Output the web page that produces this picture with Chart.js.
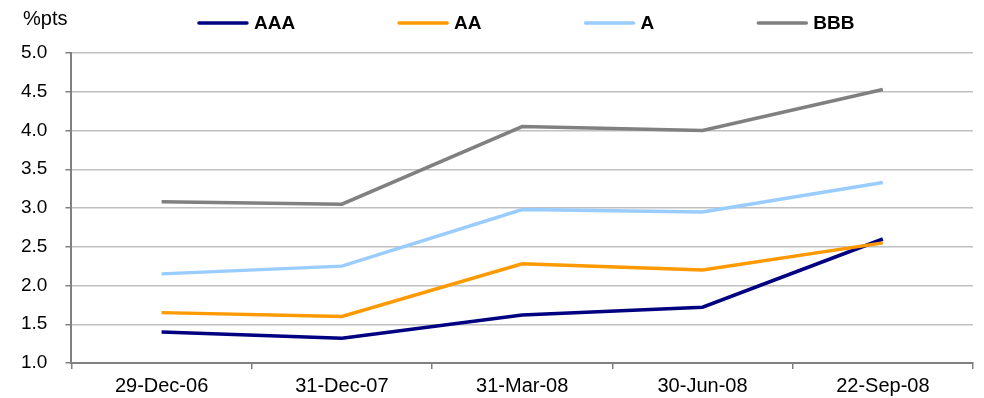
<!DOCTYPE html>
<html>
<head>
<meta charset="utf-8">
<script src="https://cdn.jsdelivr.net/npm/chart.js@4/dist/chart.umd.min.js"></script>
<style>
  html, body { margin: 0; padding: 0; background: #ffffff; }
  #wrap { width: 984px; height: 398px; position: relative; }
</style>
</head>
<body>
<div id="wrap"><canvas id="chart"></canvas></div>
<script>
// Spread over benchmark, by rating bucket (%pts)
const dates = ['29-Dec-06', '31-Dec-07', '31-Mar-08', '30-Jun-08', '22-Sep-08'];
const seriesNames = ['AAA', 'AA', 'A', 'BBB'];
const aaa = [1.40, 1.32, 1.62, 1.72, 2.60];
const aa  = [1.65, 1.60, 2.28, 2.20, 2.55];
const a   = [2.15, 2.25, 2.98, 2.95, 3.33];
const bbb = [3.08, 3.05, 4.05, 4.00, 4.53];
const yMin = 1.0, yMax = 5.0, yStep = 0.5;
const unitLabel = '%pts';

const seriesValues = [aaa, aa, a, bbb];
const seriesColors = ['#000080', '#FF9900', '#99CCFF', '#808080'];

const FONT = "'Liberation Sans', Arial, sans-serif";

// Legend row and unit caption above the plot
const headerPlugin = {
  id: 'header',
  afterDraw(chart) {
    const ctx = chart.ctx;
    const area = chart.chartArea;
    ctx.save();
    // unit caption
    ctx.font = '20px ' + FONT;
    ctx.fillStyle = '#000000';
    ctx.textBaseline = 'alphabetic';
    ctx.textAlign = 'left';
    ctx.fillText(unitLabel, 23, 25);

    // legend
    const lineLen = 50, textGap = 6, itemGap = 103;
    ctx.font = 'bold 19px ' + FONT;
    const items = chart.data.datasets.map(ds => ({
      label: ds.label, color: ds.borderColor, w: ctx.measureText(ds.label).width
    }));
    const total = items.reduce((s, it) => s + lineLen + textGap + it.w, 0) + itemGap * (items.length - 1);
    let x = (area.left + area.right) / 2 - total / 2 + 4;
    const lineY = 23, baseY = 29;
    items.forEach(it => {
      ctx.strokeStyle = it.color;
      ctx.lineWidth = 3.5;
      ctx.lineCap = 'round';
      ctx.beginPath();
      ctx.moveTo(x + 1, lineY);
      ctx.lineTo(x + lineLen - 1, lineY);
      ctx.stroke();
      ctx.fillStyle = '#000000';
      ctx.fillText(it.label, x + lineLen + textGap, baseY);
      x += lineLen + textGap + it.w + itemGap;
    });
    ctx.restore();
  }
};

const datasets = seriesNames.map((name, i) => ({
  label: name,
  data: seriesValues[i],
  borderColor: seriesColors[i],
  backgroundColor: seriesColors[i],
  borderWidth: 3.5,
  pointRadius: 0,
  pointHoverRadius: 0,
  tension: 0,
  fill: false,
  order: seriesNames.length - i
}));

new Chart(document.getElementById('chart'), {
  type: 'line',
  data: { labels: dates, datasets },
  plugins: [headerPlugin],
  options: {
    responsive: true,
    maintainAspectRatio: false,
    animation: false,
    layout: { padding: { left: 3, right: 11, top: 53, bottom: -5 } },
    plugins: {
      legend: { display: false },
      tooltip: { enabled: false },
      title: { display: false }
    },
    scales: {
      x: {
        type: 'category',
        offset: true,
        grid: {
          offset: true,
          drawOnChartArea: false,
          drawTicks: true,
          tickLength: 6,
          color: '#808080',
          tickColor: '#808080',
          lineWidth: 1.5
        },
        border: { display: true, color: '#808080', width: 2 },
        ticks: {
          color: '#000000',
          font: { family: FONT, size: 20 },
          padding: 5,
          maxRotation: 0,
          autoSkip: false
        }
      },
      y: {
        min: yMin,
        max: yMax,
        grid: {
          color: '#c0c0c0',
          lineWidth: 1.5,
          tickColor: '#808080',
          tickLength: 6,
          drawTicks: true
        },
        border: { display: true, color: '#808080', width: 2 },
        ticks: {
          stepSize: yStep,
          color: '#000000',
          font: { family: FONT, size: 19 },
          padding: 18,
          callback: v => Number(v).toFixed(1)
        }
      }
    }
  }
});
</script>
</body>
</html>
